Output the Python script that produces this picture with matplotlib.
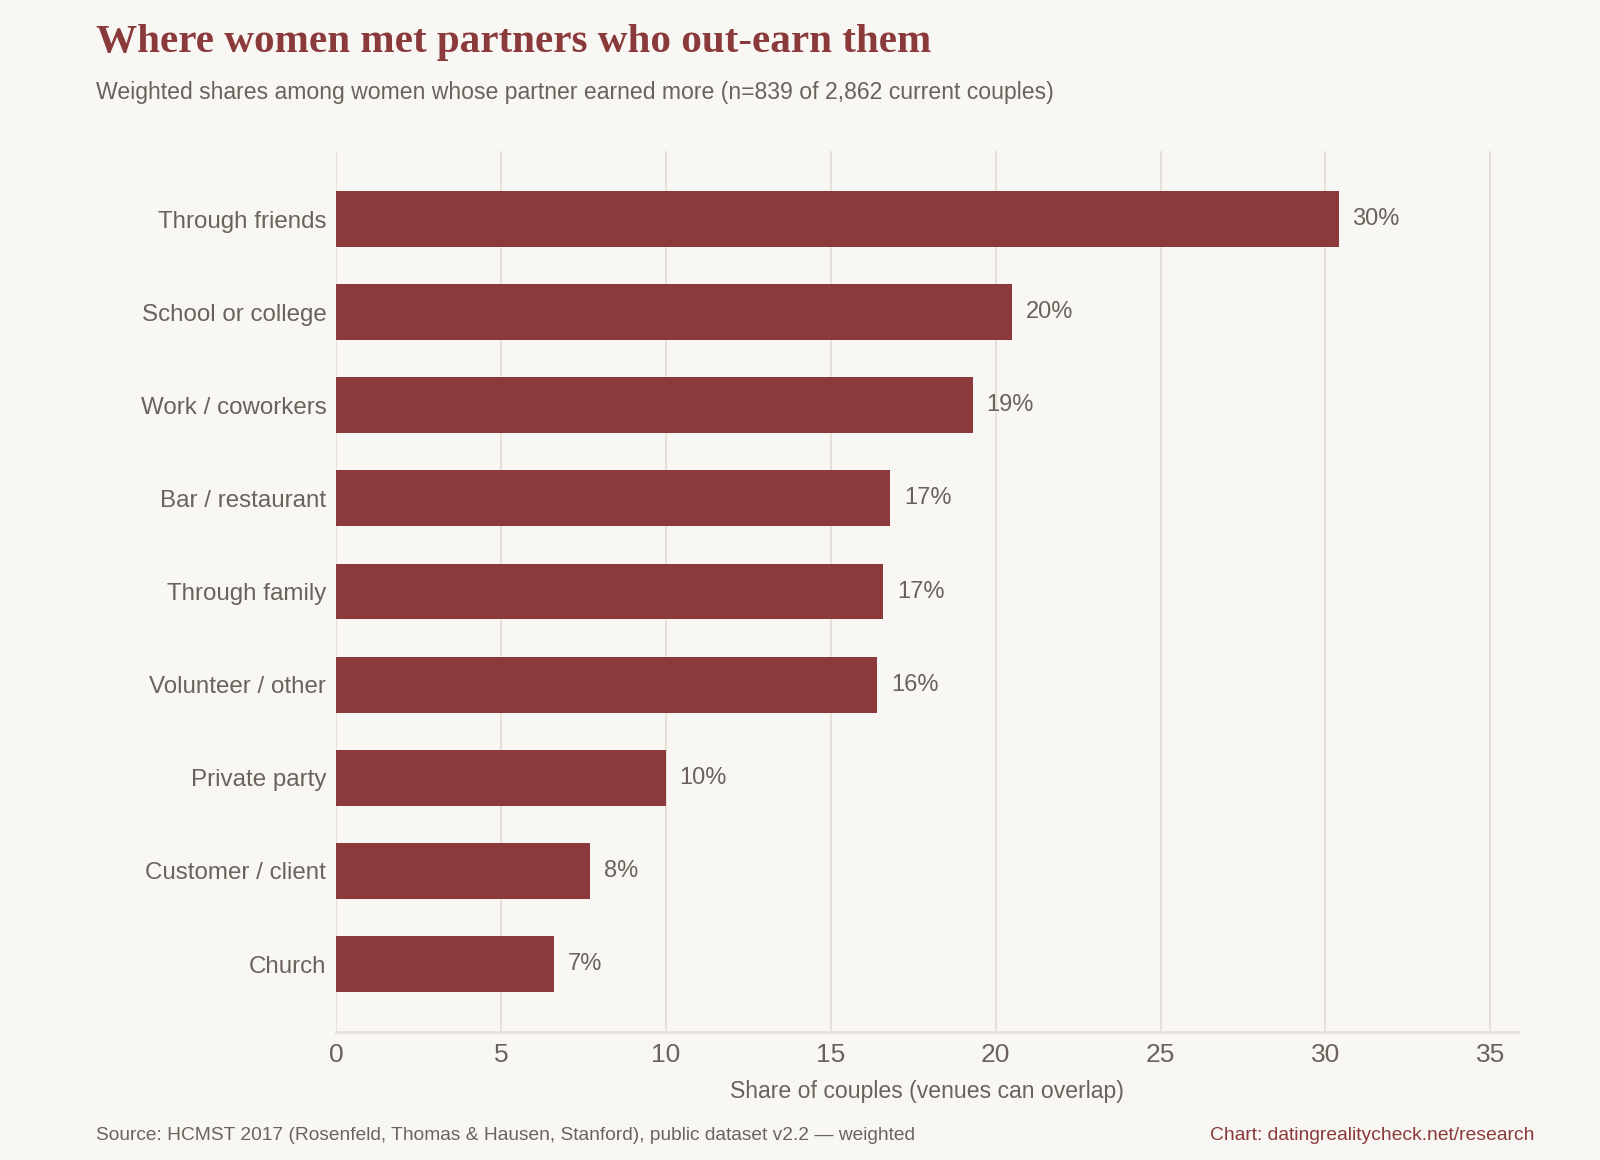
# chart render script
import matplotlib.pyplot as plt

# data
venues = ['Through friends', 'School or college', 'Work / coworkers', 'Bar / restaurant',
          'Through family', 'Volunteer / other', 'Private party', 'Customer / client', 'Church']
shares = [30.4, 20.5, 19.3, 16.8, 16.6, 16.4, 10.0, 7.7, 6.6]
xticks = [0, 5, 10, 15, 20, 25, 30, 35]

BG = '#f9f7f3'
RED = '#8b3a3c'
TXT = '#6b635b'
GRID = '#e6e1d8'

plt.rcParams['font.family'] = ['Liberation Sans', 'DejaVu Sans']

fig = plt.figure(figsize=(16, 11.6), dpi=100, facecolor=BG)
ax = fig.add_axes([0.21, 0.1103, 0.739, 0.7595])
ax.set_facecolor(BG)

# bars, top to bottom
ypos = list(range(len(venues)))[::-1]
ax.barh(ypos, shares, height=0.6, color=RED, zorder=3)
for y, v in zip(ypos, shares):
    ax.annotate(f'{v:.0f}%', (v, y), xytext=(10, 0), textcoords='offset points',
                va='center', ha='left', fontsize=17, color=TXT)

ax.set_yticks(ypos)
ax.set_yticklabels(venues, fontsize=17.4, color=TXT)
ax.set_xticks(xticks)
ax.set_xticklabels([str(t) for t in xticks], fontsize=19, color=TXT)
ax.set_xlim(0, 35.85)
ax.tick_params(axis='both', length=0)
ax.tick_params(axis='y', pad=7)
ax.tick_params(axis='x', pad=8)
ax.grid(axis='x', color=GRID, linewidth=1.5, zorder=0)
for s in ['top', 'right', 'left']:
    ax.spines[s].set_visible(False)
ax.spines['bottom'].set_color(GRID)
ax.spines['bottom'].set_linewidth(2)
ax.set_xlabel('Share of couples (venues can overlap)', fontsize=16.6, color=TXT, labelpad=9)

# header / footer
fig.text(0.06, 0.955, 'Where women met partners who out-earn them', fontsize=29.6,
         fontweight='bold', color=RED, family=['Liberation Serif', 'DejaVu Serif'])
fig.text(0.06, 0.9147, 'Weighted shares among women whose partner earned more (n=839 of 2,862 current couples)',
         fontsize=16.6, color=TXT)
fig.text(0.06, 0.017, 'Source: HCMST 2017 (Rosenfeld, Thomas & Hausen, Stanford), public dataset v2.2 \u2014 weighted',
         fontsize=13.8, color=TXT)
fig.text(0.959, 0.017, 'Chart: datingrealitycheck.net/research', fontsize=13.9, color=RED, ha='right')

fig.savefig('out.png', dpi=100, facecolor=BG)
